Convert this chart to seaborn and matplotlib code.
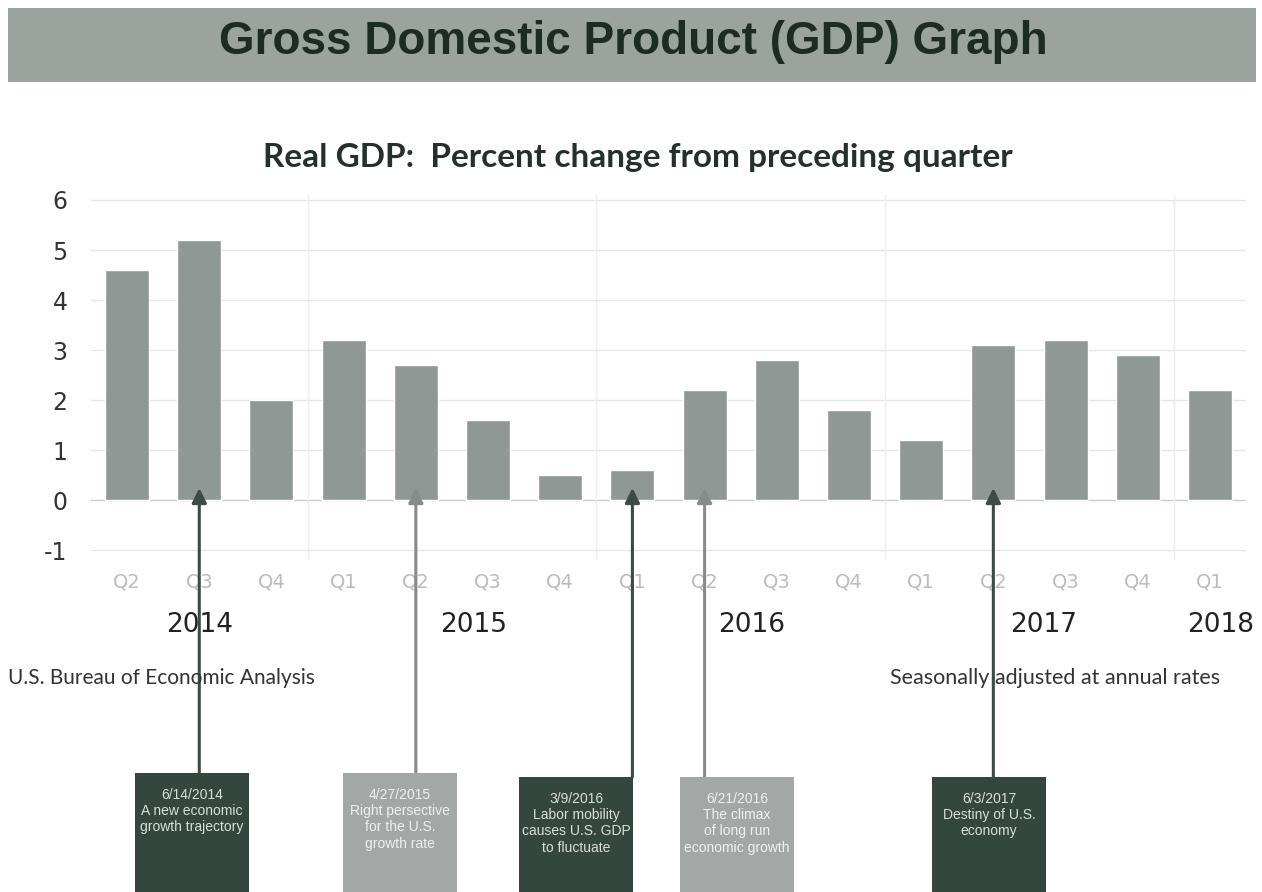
import matplotlib
matplotlib.use("Agg")
import matplotlib.pyplot as plt
import matplotlib.transforms as mtransforms
from matplotlib.patches import Rectangle
import seaborn as sns
import pandas as pd

# ---------------- data ----------------
quarters = ["Q2", "Q3", "Q4", "Q1", "Q2", "Q3", "Q4", "Q1",
            "Q2", "Q3", "Q4", "Q1", "Q2", "Q3", "Q4", "Q1"]
quarter_years = [2014, 2014, 2014, 2015, 2015, 2015, 2015, 2016,
                 2016, 2016, 2016, 2017, 2017, 2017, 2017, 2018]
gdp_change = [4.6, 5.2, 2.0, 3.2, 2.7, 1.6, 0.5, 0.6,
              2.2, 2.8, 1.8, 1.2, 3.1, 3.2, 2.9, 2.2]
year_labels = ["2014", "2015", "2016", "2017", "2018"]
y_ticks = [-1, 0, 1, 2, 3, 4, 5, 6]

event_quarter_idx = [1, 4, 7, 8, 12]
event_texts = [
    "6/14/2014\nA new economic\ngrowth trajectory",
    "4/27/2015\nRight persective\nfor the U.S.\ngrowth rate",
    "3/9/2016\nLabor mobility\ncauses U.S. GDP\nto fluctuate",
    "6/21/2016\nThe climax\nof long run\neconomic growth",
    "6/3/2017\nDestiny of U.S.\neconomy",
]
event_dark = [True, False, True, False, True]

title = "Gross Domestic Product (GDP) Graph"
subtitle = "Real GDP:  Percent change from preceding quarter"
source_left = "U.S. Bureau of Economic Analysis"
source_right = "Seasonally adjusted at annual rates"

# ---------------- layout ----------------
W, H = 1262, 892
sns.set_theme(style="white")
plt.rcParams["font.family"] = ["DejaVu Sans"]

fig = plt.figure(figsize=(W / 100, H / 100), dpi=100)
fig.patch.set_facecolor("white")


def fx(px):
    return px / W


def fy(py):
    return (H - py) / H


# banner
fig.patches.append(Rectangle((fx(8), fy(82)), fx(1248), 74 / H,
                             transform=fig.transFigure, facecolor="#9ba39f",
                             edgecolor="none", zorder=0))
fig.text(fx(633), fy(42), title, ha="center", va="center",
         fontsize=33, fontweight="bold", family=["Liberation Sans", "DejaVu Sans"],
         color="#1d2b25")

fig.text(fx(638), fy(158), subtitle, ha="center", va="center",
         fontsize=24, fontweight="bold", family=["Lato", "DejaVu Sans"],
         color="#24302b")

# axes: left 91px, right 1246px, y=6.1 at 195px, y=-1.2 at 560px
ax = fig.add_axes([fx(91), fy(560), fx(1246 - 91), 365 / H])

df = pd.DataFrame({
    "qid": [f"{y}-{q}" for y, q in zip(quarter_years, quarters)],
    "gdp": gdp_change,
})
sns.barplot(data=df, x="qid", y="gdp", color="#8f9894", saturation=1,
            width=0.61, errorbar=None, ax=ax, zorder=3)

ax.set_ylim(-1.2, 6.1)
ax.set_xlim(-0.5, len(quarters) - 0.5)
ax.set_yticks(y_ticks)
ax.set_yticklabels([str(v) for v in y_ticks])
ax.set_xticks(range(len(quarters)))
ax.set_xticklabels(quarters)
ax.set_xlabel("")
ax.set_ylabel("")
for s in ax.spines.values():
    s.set_visible(False)
ax.tick_params(axis="y", length=0, pad=17, labelsize=17, labelcolor="#333333")
ax.tick_params(axis="x", length=0, pad=9, labelsize=14, labelcolor="#bcbcbc")

for v in y_ticks:
    ax.axhline(v, color="#e6e6e6" if v != 0 else "#cccccc", lw=1.0, zorder=1)
# faint separators between Q4 and Q1 (year boundaries)
for i in range(1, len(quarters)):
    if quarters[i] == "Q1":
        ax.axvline(i - 0.5, color="#eeeeee", lw=1.0, zorder=1)

# year labels under the quarter labels
blend = mtransforms.blended_transform_factory(ax.transData, fig.transFigure)
year_pos = [1.0, 4.8, 8.65, 12.7, 15.15]
for lab, xp in zip(year_labels, year_pos):
    ax.text(xp, fy(625), lab, transform=blend, ha="center", va="center",
            fontsize=19, color="#222222", clip_on=False)

# source notes
fig.text(fx(8), fy(678), source_left, ha="left", va="center", fontsize=15,
         family=["Lato", "DejaVu Sans"], color="#333333")
fig.text(fx(890), fy(678), source_right, ha="left", va="center", fontsize=15.5,
         family=["Lato", "DejaVu Sans"], color="#333333")

# event boxes + arrows
box_left = [135, 343, 519, 680, 932]
box_top = [773, 773, 777, 777, 777]
box_w = 114
for idx, txt, dark, bl, bt in zip(event_quarter_idx, event_texts, event_dark,
                                  box_left, box_top):
    fc = "#34473f" if dark else "#a3a8a6"
    tc = "#d9dedb" if dark else "#eff1f0"
    ac = "#3e4a45" if dark else "#868c89"
    fig.patches.append(Rectangle((fx(bl), 0), fx(box_w), fy(bt),
                                 transform=fig.transFigure, facecolor=fc,
                                 edgecolor="none", zorder=1))
    fig.text(fx(bl + box_w / 2), fy(bt + 15), txt, ha="center", va="top",
             fontsize=10, linespacing=1.2, color=tc,
             family=["Liberation Sans", "DejaVu Sans"])
    ax.annotate("", xy=(idx, 0.24), xycoords="data",
                xytext=(idx, fy(bt)), textcoords=blend,
                arrowprops=dict(arrowstyle="-|>", color=ac, lw=2.2,
                                mutation_scale=22, shrinkA=0, shrinkB=0),
                annotation_clip=False, zorder=6)

fig.savefig("out.png", dpi=100)
